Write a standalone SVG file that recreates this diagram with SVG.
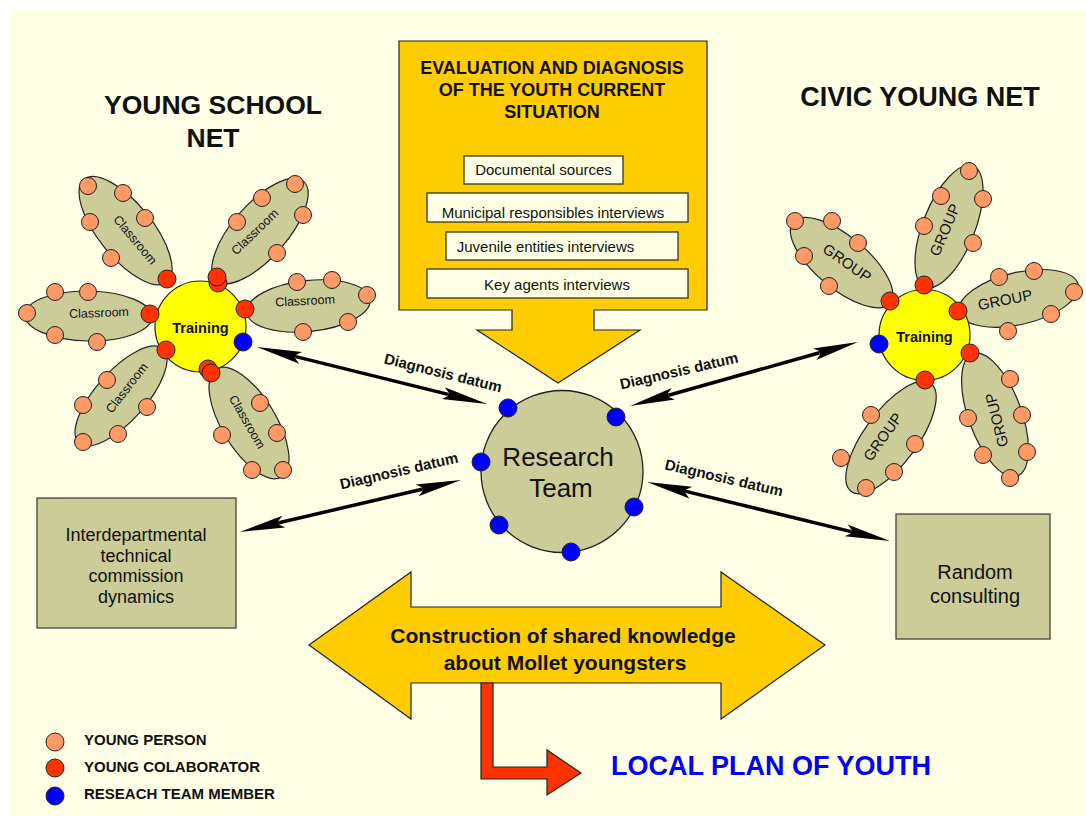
<svg xmlns="http://www.w3.org/2000/svg" width="1086" height="816" viewBox="0 0 1086 816">
  <defs>
    <style>
      text { font-family: "Liberation Sans", Arial, Helvetica, sans-serif; fill: #111; }
      .bg { fill: #FFFFE5; }
      .petal { fill: #CCCC99; stroke: #222; stroke-width: 1.2; }
      .yp { fill: #FF9966; stroke: #222; stroke-width: 1; }
      .yc { fill: #FF3300; stroke: #222; stroke-width: 1; }
      .rm { fill: #0000FF; stroke: #222; stroke-width: 1; }
      .hub { fill: #FFFF00; stroke: #222; stroke-width: 1.2; }
      .gold { fill: #FFCC00; stroke: #222; stroke-width: 1.2; }
      .plain { fill: #FFFFE5; stroke: #333; stroke-width: 1.3; }
      .khaki { fill: #CCCC99; stroke: #444; stroke-width: 1.3; }
      .redarrow { fill: #FF3300; stroke: #222; stroke-width: 1.2; }
      .cls { font-size: 12.5px; text-anchor: middle; }
      .grp { font-size: 15px; text-anchor: middle; }
      .hubtxt { font-size: 14.5px; font-weight: bold; text-anchor: middle; }
      .title { font-size: 26.5px; font-weight: bold; text-anchor: middle; }
      .evt { font-size: 18px; font-weight: bold; text-anchor: middle; }
      .src { font-size: 15px; text-anchor: middle; }
      .lbl { font-size: 15px; font-weight: bold; text-anchor: middle; }
      .legend { font-size: 15px; font-weight: bold; }
      .link { stroke: #000; stroke-width: 3.5; fill: none; marker-start: url(#head); marker-end: url(#head); }
    </style>
    <marker id="head" viewBox="-7 -7 48 14" refX="0" refY="0" markerWidth="48" markerHeight="14" markerUnits="userSpaceOnUse" orient="auto-start-reverse">
      <path d="M40,0 L-5,-6 L0,-2 L0,2 L-5,6 Z" fill="#000"/>
    </marker>
  </defs>

  <rect x="0" y="0" width="1086" height="816" fill="#FFFFFF"/>
  <rect class="bg" x="10" y="10" width="1076" height="806"/>

  <!-- headings -->
  <g id="school-net-title">
    <text class="title" x="213" y="114">YOUNG SCHOOL</text>
    <text class="title" x="213" y="147">NET</text>
  </g>
  <g id="civic-net-title">
    <text class="title" x="920" y="106" style="font-size:27px">CIVIC YOUNG NET</text>
  </g>

  <!-- evaluation and diagnosis callout -->
  <g id="evaluation">
    <path class="gold" d="M399,41 H707 V310 H594 V330 H640 L558,383 L477,330 H512 V310 H399 Z"/>
    <text class="evt" x="552" y="74">EVALUATION AND DIAGNOSIS</text>
    <text class="evt" x="552" y="96">OF THE YOUTH CURRENT</text>
    <text class="evt" x="552" y="118">SITUATION</text>
    <rect class="plain" x="464" y="156" width="159" height="28"/>
    <text class="src" x="543.5" y="175">Documental sources</text>
    <rect class="plain" x="427" y="193" width="261" height="29"/>
    <text class="src" x="553" y="218">Municipal responsibles interviews</text>
    <rect class="plain" x="446" y="232" width="232" height="28"/>
    <text class="src" x="545.5" y="252">Juvenile entities interviews</text>
    <rect class="plain" x="427" y="269" width="261" height="29"/>
    <text class="src" x="557" y="290">Key agents interviews</text>
  </g>

  <!-- young school net: classrooms around training -->
  <g id="school-net">
    <g id="classroom-ul">
      <ellipse class="petal" cx="125.6" cy="230.7" rx="66" ry="27" transform="rotate(51.1 125.6 230.7)"/>
      <text class="cls" transform="translate(135 240) rotate(50)" y="4">Classroom</text>
      <circle class="yp" cx="88" cy="186" r="8.5"/>
      <circle class="yp" cx="123" cy="193" r="8.5"/>
      <circle class="yp" cx="90" cy="222" r="8.5"/>
      <circle class="yp" cx="145" cy="218" r="8.5"/>
      <circle class="yp" cx="111" cy="258" r="8.5"/>
    </g>
    <g id="classroom-ur">
      <ellipse class="petal" cx="260" cy="231" rx="66" ry="27" transform="rotate(-48.7 260 231)"/>
      <text class="cls" transform="translate(255 232) rotate(-44)" y="4">Classroom</text>
      <circle class="yp" cx="295" cy="184" r="8.5"/>
      <circle class="yp" cx="262" cy="198" r="8.5"/>
      <circle class="yp" cx="237" cy="222" r="8.5"/>
      <circle class="yp" cx="303" cy="215" r="8.5"/>
      <circle class="yp" cx="277" cy="253" r="8.5"/>
    </g>
    <g id="classroom-r">
      <ellipse class="petal" cx="308.5" cy="306" rx="62" ry="25.5" transform="rotate(-6 308.5 306)"/>
      <text class="cls" transform="translate(305 301) rotate(-3)" y="4">Classroom</text>
      <circle class="yp" cx="297" cy="282" r="8.5"/>
      <circle class="yp" cx="332" cy="280" r="8.5"/>
      <circle class="yp" cx="367" cy="295" r="8.5"/>
      <circle class="yp" cx="348" cy="322" r="8.5"/>
      <circle class="yp" cx="303" cy="332" r="8.5"/>
    </g>
    <g id="classroom-l">
      <ellipse class="petal" cx="88.5" cy="316" rx="63.5" ry="25" transform="rotate(1 88.5 316)"/>
      <text class="cls" transform="translate(99 313) rotate(-2)" y="4">Classroom</text>
      <circle class="yp" cx="55" cy="292" r="8.5"/>
      <circle class="yp" cx="88" cy="292" r="8.5"/>
      <circle class="yp" cx="27" cy="313" r="8.5"/>
      <circle class="yp" cx="55" cy="335" r="8.5"/>
      <circle class="yp" cx="97" cy="342" r="8.5"/>
    </g>
    <g id="classroom-ll">
      <ellipse class="petal" cx="121" cy="396" rx="63" ry="25" transform="rotate(-48.3 121 396)"/>
      <text class="cls" transform="translate(127 388) rotate(-52)" y="4">Classroom</text>
      <circle class="yp" cx="107" cy="380" r="8.5"/>
      <circle class="yp" cx="147" cy="407" r="8.5"/>
      <circle class="yp" cx="83" cy="405" r="8.5"/>
      <circle class="yp" cx="118" cy="434" r="8.5"/>
      <circle class="yp" cx="83" cy="442" r="8.5"/>
    </g>
    <g id="classroom-lr">
      <ellipse class="petal" cx="249" cy="423" rx="63" ry="27" transform="rotate(58.8 249 423)"/>
      <text class="cls" transform="translate(247 422) rotate(60)" y="4">Classroom</text>
      <circle class="yp" cx="260" cy="403" r="8.5"/>
      <circle class="yp" cx="277" cy="433" r="8.5"/>
      <circle class="yp" cx="222" cy="435" r="8.5"/>
      <circle class="yp" cx="252" cy="470" r="8.5"/>
      <circle class="yp" cx="283" cy="470" r="8.5"/>
    </g>
    <g id="school-training">
      <circle class="hub" cx="200.5" cy="326.5" r="45.5"/>
      <text class="hubtxt" x="200.5" y="333">Training</text>
      <circle class="yc" cx="167" cy="279" r="9"/>
      <circle class="yc" cx="218" cy="283" r="9"/>
      <circle class="yc" cx="217" cy="277" r="9"/>
      <circle class="yc" cx="245" cy="309" r="9"/>
      <circle class="yc" cx="150" cy="314" r="9"/>
      <circle class="yc" cx="166" cy="350" r="9"/>
      <circle class="yc" cx="208" cy="369" r="9"/>
      <circle class="yc" cx="211" cy="373" r="9"/>
      <circle class="rm" cx="243" cy="342" r="9"/>
    </g>
  </g>

  <!-- civic young net: groups around training -->
  <g id="civic-net">
    <g id="group-ul">
      <ellipse class="petal" cx="841.6" cy="262.6" rx="63" ry="26" transform="rotate(39.9 841.6 262.6)"/>
      <text class="grp" transform="translate(847 263) rotate(35)" y="5">GROUP</text>
      <circle class="yp" cx="795" cy="221" r="8.5"/>
      <circle class="yp" cx="832" cy="221" r="8.5"/>
      <circle class="yp" cx="858" cy="243" r="8.5"/>
      <circle class="yp" cx="804" cy="256" r="8.5"/>
      <circle class="yp" cx="829" cy="286" r="8.5"/>
    </g>
    <g id="group-u">
      <ellipse class="petal" cx="949" cy="226.5" rx="65" ry="26" transform="rotate(-68.4 949 226.5)"/>
      <text class="grp" transform="translate(945 230) rotate(-67)" y="5">GROUP</text>
      <circle class="yp" cx="969" cy="171" r="8.5"/>
      <circle class="yp" cx="983" cy="199" r="8.5"/>
      <circle class="yp" cx="941" cy="196" r="8.5"/>
      <circle class="yp" cx="924" cy="226" r="8.5"/>
      <circle class="yp" cx="973" cy="243" r="8.5"/>
    </g>
    <g id="group-r">
      <ellipse class="petal" cx="1018.7" cy="298.4" rx="61" ry="26" transform="rotate(-13 1018.7 298.4)"/>
      <text class="grp" transform="translate(1005 300) rotate(-11)" y="5">GROUP</text>
      <circle class="yp" cx="999" cy="277" r="8.5"/>
      <circle class="yp" cx="1034" cy="271" r="8.5"/>
      <circle class="yp" cx="1074" cy="292" r="8.5"/>
      <circle class="yp" cx="1051" cy="314" r="8.5"/>
      <circle class="yp" cx="1008" cy="331" r="8.5"/>
    </g>
    <g id="group-lr">
      <ellipse class="petal" cx="995" cy="415" rx="65" ry="26.5" transform="rotate(70 995 415)"/>
      <text class="grp" transform="translate(997 420) rotate(-104)" y="5">GROUP</text>
      <circle class="yp" cx="1010" cy="379" r="8.5"/>
      <circle class="yp" cx="1022" cy="415" r="8.5"/>
      <circle class="yp" cx="968" cy="418" r="8.5"/>
      <circle class="yp" cx="1027" cy="452" r="8.5"/>
      <circle class="yp" cx="983" cy="455" r="8.5"/>
      <circle class="yp" cx="1010" cy="478" r="8.5"/>
    </g>
    <g id="group-ll">
      <ellipse class="petal" cx="891" cy="437.5" rx="67" ry="26.5" transform="rotate(-53.6 891 437.5)"/>
      <text class="grp" transform="translate(883 437) rotate(-54)" y="5">GROUP</text>
      <circle class="yp" cx="871" cy="415" r="8.5"/>
      <circle class="yp" cx="915" cy="444" r="8.5"/>
      <circle class="yp" cx="841" cy="458" r="8.5"/>
      <circle class="yp" cx="894" cy="472" r="8.5"/>
      <circle class="yp" cx="866" cy="488" r="8.5"/>
    </g>
    <g id="civic-training">
      <circle class="hub" cx="924.5" cy="335" r="45.5"/>
      <text class="hubtxt" x="924.5" y="342">Training</text>
      <circle class="yc" cx="890" cy="301" r="9"/>
      <circle class="yc" cx="924" cy="285" r="9"/>
      <circle class="yc" cx="958" cy="311" r="9"/>
      <circle class="yc" cx="970" cy="353" r="9"/>
      <circle class="yc" cx="925" cy="380" r="9"/>
      <circle class="rm" cx="879" cy="344" r="9"/>
    </g>
  </g>

  <!-- research team -->
  <g id="research-team">
    <circle class="khaki" cx="562" cy="471.5" r="81" style="stroke:#222"/>
    <text x="558" y="466" style="font-size:26px;text-anchor:middle">Research</text>
    <text x="561" y="497" style="font-size:26px;text-anchor:middle">Team</text>
    <circle class="rm" cx="508" cy="408" r="9"/>
    <circle class="rm" cx="616" cy="417" r="9"/>
    <circle class="rm" cx="481" cy="462" r="9"/>
    <circle class="rm" cx="634" cy="507" r="9"/>
    <circle class="rm" cx="499" cy="525" r="9"/>
    <circle class="rm" cx="571" cy="552" r="9"/>
  </g>

  <!-- side sources -->
  <g id="commission">
    <rect class="khaki" x="37" y="498" width="199" height="130"/>
    <text x="136" y="541" style="font-size:18px;text-anchor:middle">Interdepartmental</text>
    <text x="136" y="562" style="font-size:18px;text-anchor:middle">technical</text>
    <text x="136" y="582" style="font-size:18px;text-anchor:middle">commission</text>
    <text x="136" y="603" style="font-size:18px;text-anchor:middle">dynamics</text>
  </g>
  <g id="random-consulting">
    <rect class="khaki" x="896" y="514" width="154" height="125"/>
    <text x="975" y="579" style="font-size:20px;text-anchor:middle">Random</text>
    <text x="975" y="603" style="font-size:20px;text-anchor:middle">consulting</text>
  </g>

  <!-- diagnosis data flows -->
  <g id="connectors">
    <line class="link" x1="295.8" y1="356.6" x2="448.2" y2="394.4"/>
    <line class="link" x1="668.5" y1="395.2" x2="819.5" y2="352.8"/>
    <line class="link" x1="685.9" y1="491.4" x2="851.1" y2="531.6"/>
    <line class="link" x1="278.9" y1="522.8" x2="422.1" y2="489.2"/>
    <text class="lbl" transform="translate(443 373) rotate(14)" y="5">Diagnosis datum</text>
    <text class="lbl" transform="translate(679 371) rotate(-13)" y="5">Diagnosis datum</text>
    <text class="lbl" transform="translate(724 478) rotate(13)" y="5">Diagnosis datum</text>
    <text class="lbl" transform="translate(399 471) rotate(-13)" y="5">Diagnosis datum</text>
  </g>

  <!-- shared knowledge and outcome -->
  <g id="shared-knowledge">
    <path class="gold" d="M309,645 L411,572 V607 H721 V572 L825,645 L721,719 V683 H411 V719 Z"/>
    <text x="563" y="643" style="font-size:21px;font-weight:bold;text-anchor:middle">Construction of shared knowledge</text>
    <text x="565" y="670" style="font-size:21px;font-weight:bold;text-anchor:middle">about Mollet youngsters</text>
  </g>
  <g id="to-local-plan">
    <path class="redarrow" d="M481,683 V779 H547 V795 L581,773 L547,750 V767 H493 V683 Z"/>
  </g>
  <g id="local-plan">
    <text x="611" y="775" style="font-size:27px;font-weight:bold;fill:#0000FF">LOCAL PLAN OF YOUTH</text>
  </g>

  <!-- key -->
  <g id="legend">
    <circle class="yp" cx="55" cy="742" r="9"/>
    <circle class="yc" cx="55" cy="768" r="9"/>
    <circle class="rm" cx="55" cy="796" r="9"/>
    <text class="legend" x="84" y="745">YOUNG PERSON</text>
    <text class="legend" x="84" y="772">YOUNG COLABORATOR</text>
    <text class="legend" x="84" y="799">RESEACH TEAM MEMBER</text>
  </g>
</svg>
